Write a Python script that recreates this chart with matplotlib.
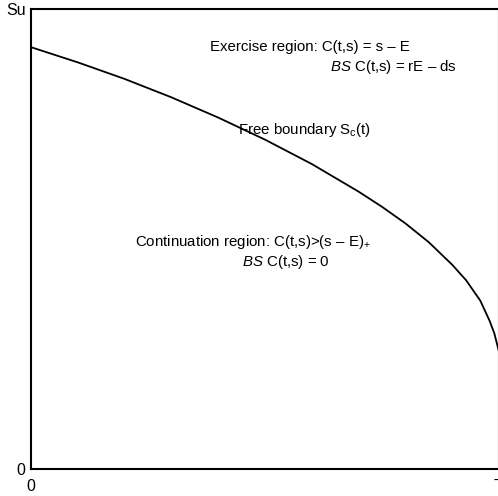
import matplotlib
matplotlib.use("Agg")
import matplotlib.pyplot as plt

plt.rcParams['font.family'] = ['Liberation Sans', 'DejaVu Sans']
plt.rcParams['mathtext.fontset'] = 'custom'
plt.rcParams['mathtext.rm'] = 'Liberation Sans'
plt.rcParams['mathtext.it'] = 'Liberation Sans:italic'

# free boundary S_c(t) (t and s scaled to [0, 1])
t_vals = [0.0, 0.1, 0.2, 0.3, 0.4, 0.5, 0.6, 0.7, 0.75, 0.8, 0.85,
          0.9, 0.93, 0.96, 0.98, 0.99, 1.0]
s_vals = [0.917, 0.884, 0.848, 0.808, 0.764, 0.716, 0.663, 0.603, 0.570,
          0.534, 0.493, 0.444, 0.410, 0.366, 0.322, 0.295, 0.255]

x_ticks = [0, 1]
x_labels = ['0', 'T']
y_ticks = [0, 1]
y_labels = ['0', 'Su']

fig = plt.figure(figsize=(4.98, 4.96), dpi=100)
ax = fig.add_axes([31/498, 27/496, 1.002 - 31/498, (469-9)/496])
ax.plot(t_vals, s_vals, color='black', lw=1.3)
ax.set_xlim(0, 1)
ax.set_ylim(0, 1)
ax.set_xticks(x_ticks)
ax.set_xticklabels(x_labels)
ax.set_yticks(y_ticks)
ax.set_yticklabels(y_labels)
ax.tick_params(length=0, labelsize=11.5)
ax.tick_params(axis='x', pad=7)
ax.tick_params(axis='y', pad=4)
for sp in ax.spines.values():
    sp.set_linewidth(1.5)

fs = 10.8
ax.text(0.382, 0.917, 'Exercise region: C(t,s) = s \u2013 E', fontsize=fs, ha='left', va='center')
ax.text(0.910, 0.874, '$\\mathit{BS}$ C(t,s) = rE \u2013 ds', fontsize=fs, ha='right', va='center')
ax.text(0.442, 0.737, 'Free boundary S$_{\\mathrm{c}}$(t)', fontsize=fs, ha='left', va='center')
ax.text(0.222, 0.493, 'Continuation region: C(t,s)>(s \u2013 E)$_{+}$', fontsize=fs, ha='left', va='center')
ax.text(0.639, 0.450, '$\\mathit{BS}$ C(t,s) = 0', fontsize=fs, ha='right', va='center')

fig.savefig('out.png', dpi=100)
